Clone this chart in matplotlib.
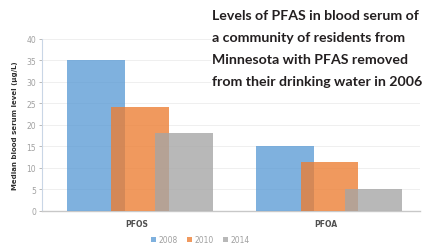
import numpy as np
import matplotlib
matplotlib.use('Agg')
import matplotlib.pyplot as plt

# data
categories = ['PFOS', 'PFOA']
years = ['2008', '2010', '2014']
values = {
    '2008': [35.0, 15.0],
    '2010': [24.2, 11.3],
    '2014': [18.0, 5.0],
}
colors = ['#5B9BD5', '#ED7D31', '#A5A5A5']

fig = plt.figure(figsize=(4.27, 2.51), dpi=100)
ax = fig.add_axes([0.098, 0.157, 0.886, 0.685])

x = np.arange(len(categories))
width = 0.305
step = 0.233
for i, yr in enumerate(years):
    ax.bar(x + (i - 1) * step + 0.02, values[yr], width, color=colors[i],
           alpha=0.78, label=yr, zorder=3, linewidth=0)

ax.set_xlim(-0.5, 1.5)
ax.set_ylim(0, 40)
ax.set_yticks(range(0, 41, 5))
ax.grid(axis='y', color='#ececec', linewidth=0.6, zorder=0)
for s in ['top', 'right']:
    ax.spines[s].set_visible(False)
ax.spines['left'].set_color('#c9d6e6')
ax.spines['left'].set_linewidth(0.8)
ax.spines['bottom'].set_color('#c8c8c8')
ax.spines['bottom'].set_linewidth(1.0)
ax.tick_params(axis='y', labelsize=5.5, colors='#a0a0a0', length=2, width=0.5, pad=2)
ax.tick_params(axis='x', length=0, pad=6)
ax.set_xticks(x)
ax.set_xticklabels(categories, fontsize=5.5, fontweight='bold', color='#505050')
ax.set_ylabel('Median blood serum level (\u00b5g/L)', fontsize=5, fontweight='bold',
              color='#303030', labelpad=6)

leg = fig.legend(loc='center', bbox_to_anchor=(0.47, 0.04), ncol=3, frameon=False,
                 fontsize=5.5, handlelength=0.6, handleheight=0.6, handletextpad=0.4,
                 columnspacing=1.2)
for t in leg.get_texts():
    t.set_color('#a0a0a0')

title = ('Levels of PFAS in blood serum of\n'
         'a community of residents from\n'
         'Minnesota with PFAS removed\n'
         'from their drinking water in 2006')
fig.text(0.497, 0.962, title, ha='left', va='top', fontsize=10.2, fontweight='bold',
         family='Lato', color='#231f20', linespacing=2.0,
         bbox=dict(facecolor='white', edgecolor='none', pad=1))

fig.savefig('out.png', dpi=100)
